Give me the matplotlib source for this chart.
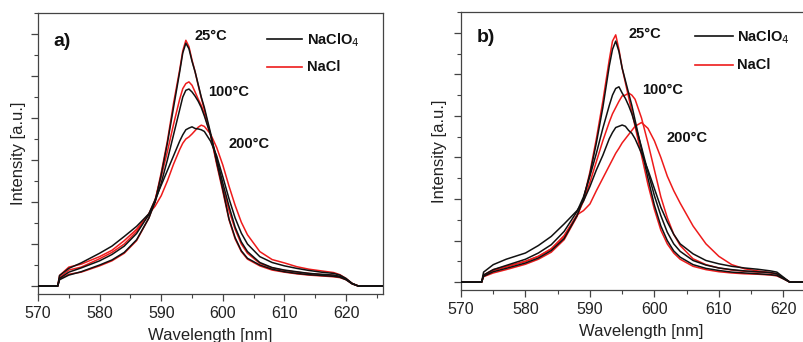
import matplotlib
matplotlib.use("Agg")
import matplotlib.pyplot as plt
from matplotlib.ticker import MultipleLocator, NullFormatter

plt.rcParams['font.family'] = ['Liberation Sans', 'DejaVu Sans']

# Wavelength sampling points [nm]
wavelength = [570, 573.2, 573.5, 575, 577, 580, 582, 584, 586, 588, 589, 590, 591,
              592, 593, 593.5, 594, 594.5, 595, 595.5, 596, 596.5, 597, 598, 599,
              600, 601, 602, 603, 604, 606, 608, 610, 612, 614, 616, 618, 619,
              620, 621, 622, 626]

# Panel a) emission intensities (arb. units)
a_naclo4_25 = [0, 0, 0.15, 0.26, 0.34, 0.5, 0.62, 0.8, 1.1, 1.62, 2.0, 2.65, 3.4, 4.25, 5.1,
               5.55, 5.78, 5.65, 5.35, 5.1, 4.8, 4.5, 4.25, 3.65, 2.95, 2.3, 1.6, 1.15, 0.84,
               0.66, 0.5, 0.4, 0.34, 0.3, 0.27, 0.25, 0.23, 0.21, 0.15, 0.05, 0, 0]
a_nacl_25 = [0, 0, 0.16, 0.28, 0.33, 0.48, 0.6, 0.78, 1.08, 1.62, 2.02, 2.7, 3.45, 4.35, 5.15,
             5.6, 5.85, 5.7, 5.38, 5.1, 4.78, 4.48, 4.2, 3.6, 2.9, 2.25, 1.58, 1.12, 0.82,
             0.64, 0.48, 0.38, 0.33, 0.29, 0.26, 0.24, 0.22, 0.2, 0.15, 0.05, 0, 0]
a_naclo4_100 = [0, 0, 0.18, 0.33, 0.43, 0.6, 0.75, 0.95, 1.25, 1.7, 2.0, 2.45, 3.0, 3.6, 4.2,
                4.5, 4.66, 4.69, 4.62, 4.52, 4.4, 4.25, 4.05, 3.6, 3.05, 2.45, 1.9, 1.4, 1.05,
                0.82, 0.56, 0.44, 0.38, 0.34, 0.3, 0.28, 0.26, 0.23, 0.16, 0.06, 0, 0]
a_nacl_100 = [0, 0, 0.2, 0.38, 0.45, 0.65, 0.8, 1.0, 1.3, 1.72, 2.05, 2.6, 3.2, 3.85, 4.45,
              4.7, 4.82, 4.86, 4.78, 4.62, 4.45, 4.3, 4.1, 3.6, 2.95, 2.35, 1.8, 1.35, 1.0,
              0.78, 0.54, 0.43, 0.37, 0.33, 0.3, 0.27, 0.25, 0.22, 0.16, 0.06, 0, 0]
a_naclo4_200 = [0, 0, 0.25, 0.42, 0.55, 0.78, 0.95, 1.18, 1.42, 1.72, 2.05, 2.4, 2.75, 3.1, 3.45,
                3.6, 3.72, 3.76, 3.79, 3.75, 3.74, 3.72, 3.68, 3.45, 3.1, 2.6, 2.08, 1.62, 1.26,
                1.0, 0.7, 0.56, 0.48, 0.42, 0.37, 0.33, 0.3, 0.26, 0.18, 0.06, 0, 0]
a_nacl_200 = [0, 0, 0.25, 0.45, 0.52, 0.7, 0.85, 1.08, 1.35, 1.72, 1.9, 2.15, 2.5, 2.9, 3.25,
              3.4, 3.5, 3.55, 3.62, 3.7, 3.78, 3.83, 3.8, 3.62, 3.3, 2.88, 2.38, 1.92, 1.52,
              1.22, 0.82, 0.63, 0.55, 0.46, 0.4, 0.36, 0.32, 0.27, 0.18, 0.06, 0, 0]

# Panel b) emission intensities (arb. units)
b_naclo4_25 = [0, 0, 0.14, 0.25, 0.33, 0.46, 0.58, 0.76, 1.05, 1.6, 2.0, 2.6, 3.35, 4.2, 5.2,
               5.6, 5.8, 5.55, 5.15, 4.85, 4.55, 4.25, 3.9, 3.2, 2.5, 1.85, 1.35, 1.0, 0.75,
               0.6, 0.42, 0.33, 0.28, 0.24, 0.22, 0.2, 0.18, 0.16, 0.08, 0, 0, 0]
b_nacl_25 = [0, 0, 0.13, 0.22, 0.3, 0.43, 0.55, 0.72, 1.02, 1.58, 2.0, 2.65, 3.45, 4.35, 5.35,
             5.8, 5.95, 5.6, 5.15, 4.8, 4.45, 4.1, 3.75, 3.05, 2.35, 1.75, 1.25, 0.92, 0.7,
             0.55, 0.38, 0.3, 0.25, 0.22, 0.2, 0.19, 0.17, 0.15, 0.08, 0, 0, 0]
b_naclo4_100 = [0, 0, 0.17, 0.3, 0.4, 0.55, 0.7, 0.9, 1.22, 1.7, 2.05, 2.55, 3.1, 3.7, 4.25,
                4.5, 4.66, 4.7, 4.55, 4.42, 4.25, 4.05, 3.8, 3.25, 2.65, 2.08, 1.6, 1.2, 0.92,
                0.74, 0.52, 0.41, 0.34, 0.3, 0.27, 0.25, 0.23, 0.2, 0.1, 0, 0, 0]
b_nacl_100 = [0, 0, 0.16, 0.28, 0.36, 0.5, 0.62, 0.8, 1.1, 1.6, 1.95, 2.4, 2.9, 3.4, 3.85,
              4.05, 4.2, 4.35, 4.48, 4.5, 4.55, 4.5, 4.4, 3.95, 3.35, 2.7, 2.05, 1.55, 1.15,
              0.88, 0.56, 0.42, 0.34, 0.29, 0.26, 0.24, 0.22, 0.19, 0.1, 0, 0, 0]
b_naclo4_200 = [0, 0, 0.24, 0.42, 0.55, 0.7, 0.88, 1.1, 1.4, 1.72, 1.95, 2.3, 2.7, 3.05, 3.45,
                3.6, 3.72, 3.75, 3.78, 3.75, 3.65, 3.58, 3.45, 3.1, 2.7, 2.25, 1.8, 1.45, 1.15,
                0.92, 0.68, 0.52, 0.44, 0.38, 0.34, 0.31, 0.27, 0.24, 0.12, 0, 0, 0]
b_nacl_200 = [0, 0, 0.17, 0.3, 0.38, 0.5, 0.62, 0.8, 1.12, 1.62, 1.72, 1.88, 2.2, 2.5, 2.8,
              2.95, 3.1, 3.22, 3.35, 3.45, 3.55, 3.65, 3.75, 3.84, 3.7, 3.4, 3.0, 2.55, 2.2,
              1.9, 1.35, 0.92, 0.62, 0.42, 0.32, 0.27, 0.23, 0.2, 0.1, 0, 0, 0]

temperatures = ["25°C", "100°C", "200°C"]
panel_labels = ["a)", "b)"]
legend_labels = ["NaClO$_4$", "NaCl"]

BLACK = "#111111"
RED = "#ee1b1b"
W, H = 804, 342

fig = plt.figure(figsize=(W / 100, H / 100), dpi=100)


def px_axes(left, top, right, bottom):
    return fig.add_axes([left / W, 1 - bottom / H, (right - left) / W, (bottom - top) / H])


def px_text(x, y, s, **kw):
    fig.text(x / W, 1 - y / H, s, ha="left", va="center", **kw)


ax_a = px_axes(38, 13, 383, 294)
ax_b = px_axes(461, 12, 822, 290)

panels = [
    (ax_a, -0.035, [a_naclo4_25, a_naclo4_100, a_naclo4_200], [a_nacl_25, a_nacl_100, a_nacl_200]),
    (ax_b, -0.039, [b_naclo4_25, b_naclo4_100, b_naclo4_200], [b_nacl_25, b_nacl_100, b_nacl_200]),
]

for ax, ylab_x, black_set, red_set in panels:
    for ys in black_set:
        ax.plot(wavelength, ys, color=BLACK, lw=1.1, zorder=3)
    for ys in red_set:
        ax.plot(wavelength, ys, color=RED, lw=1.1, zorder=2)
    ax.set_xlim(570, 626)
    ax.set_ylim(-0.19, 6.5)
    ax.xaxis.set_major_locator(MultipleLocator(10))
    ax.xaxis.set_minor_locator(MultipleLocator(5))
    ax.yaxis.set_major_locator(MultipleLocator(1))
    ax.yaxis.set_minor_locator(MultipleLocator(0.5))
    ax.yaxis.set_major_formatter(NullFormatter())
    ax.tick_params(axis="both", which="major", direction="out", length=5, width=0.9,
                   color="#444444", labelsize=11.5, pad=4, labelcolor="#222222")
    ax.tick_params(axis="both", which="minor", direction="out", length=3, width=0.8,
                   color="#444444")
    for sp in ax.spines.values():
        sp.set_color("#444444")
        sp.set_linewidth(0.9)
    ax.set_xlabel("Wavelength [nm]", fontsize=12, labelpad=5, color="#222222")
    ax.set_ylabel("Intensity [a.u.]", fontsize=12, color="#222222")
    ax.yaxis.set_label_coords(ylab_x, 0.5)

bold = dict(fontweight="bold", color="#111111")

# panel a annotations
px_text(53, 41, panel_labels[0], fontsize=14, **bold)
px_text(195, 36, temperatures[0], fontsize=10.5, **bold)
px_text(208, 92, temperatures[1], fontsize=10.5, **bold)
px_text(229, 144, temperatures[2], fontsize=10.5, **bold)
# panel b annotations
px_text(477, 37, panel_labels[1], fontsize=14, **bold)
px_text(629, 34, temperatures[0], fontsize=10.5, **bold)
px_text(642, 90, temperatures[1], fontsize=10.5, **bold)
px_text(667, 138, temperatures[2], fontsize=10.5, **bold)

# legends drawn as line samples plus text
for (x0, x1, xt, y1, y2) in [(267, 302, 307, 39, 67), (695, 733, 737, 36, 65)]:
    fig.add_artist(plt.Line2D([x0 / W, x1 / W], [1 - y1 / H, 1 - y1 / H], color=BLACK, lw=1.2))
    fig.add_artist(plt.Line2D([x0 / W, x1 / W], [1 - y2 / H, 1 - y2 / H], color=RED, lw=1.2))
    px_text(xt, y1 + 1, legend_labels[0], fontsize=10.5, **bold)
    px_text(xt, y2, legend_labels[1], fontsize=10.5, **bold)

fig.savefig("out.png", dpi=100)
